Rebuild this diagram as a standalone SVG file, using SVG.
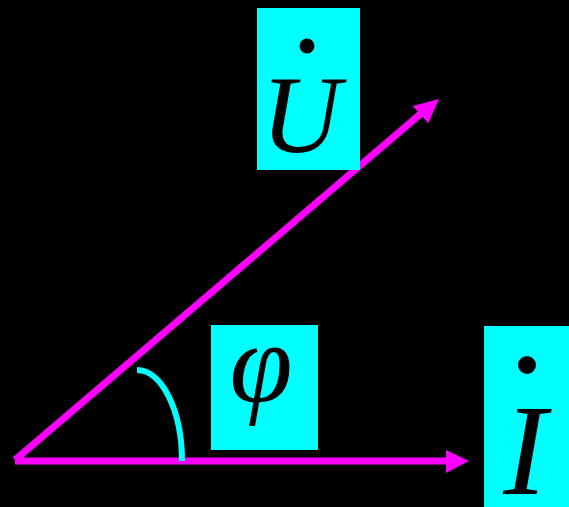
<svg xmlns="http://www.w3.org/2000/svg" width="569" height="507" viewBox="0 0 569 507">
<style>
.box{fill:#00ffff}
.lbl{font-family:"Liberation Serif","Times New Roman",serif;font-style:italic;fill:#000;text-anchor:middle}
.vec{stroke:#ff00ff;stroke-width:7;fill:none}
.head{fill:#ff00ff}
</style>
<rect width="569" height="507" fill="#000"/>
<g id="connectors">
<line class="vec" x1="15" y1="461" x2="448" y2="461"/>
<polygon class="head" points="469,461 446,450 446,473"/>
<line class="vec" x1="15" y1="460" x2="424" y2="111"/>
<polygon class="head" points="439,99 412.7,106 428.3,123.3"/>
<path d="M137,370 A45,91 0 0 1 182,461" stroke="#00ffff" stroke-width="6" fill="none"/>
</g>
<g id="U">
<rect class="box" x="257" y="8" width="103" height="162"/>
<circle cx="307" cy="46" r="7.5" fill="#000"/>
<text class="lbl" x="301" y="152" font-size="110">U</text>
</g>
<g id="phi">
<rect class="box" x="211" y="325" width="107" height="125"/>
<text class="lbl" x="261" y="402" font-size="114">φ</text>
</g>
<g id="I">
<rect class="box" x="484" y="326" width="85" height="181"/>
<circle cx="527" cy="365" r="9" fill="#000"/>
<text class="lbl" x="525" y="494" font-size="130">I</text>
</g>
</svg>
